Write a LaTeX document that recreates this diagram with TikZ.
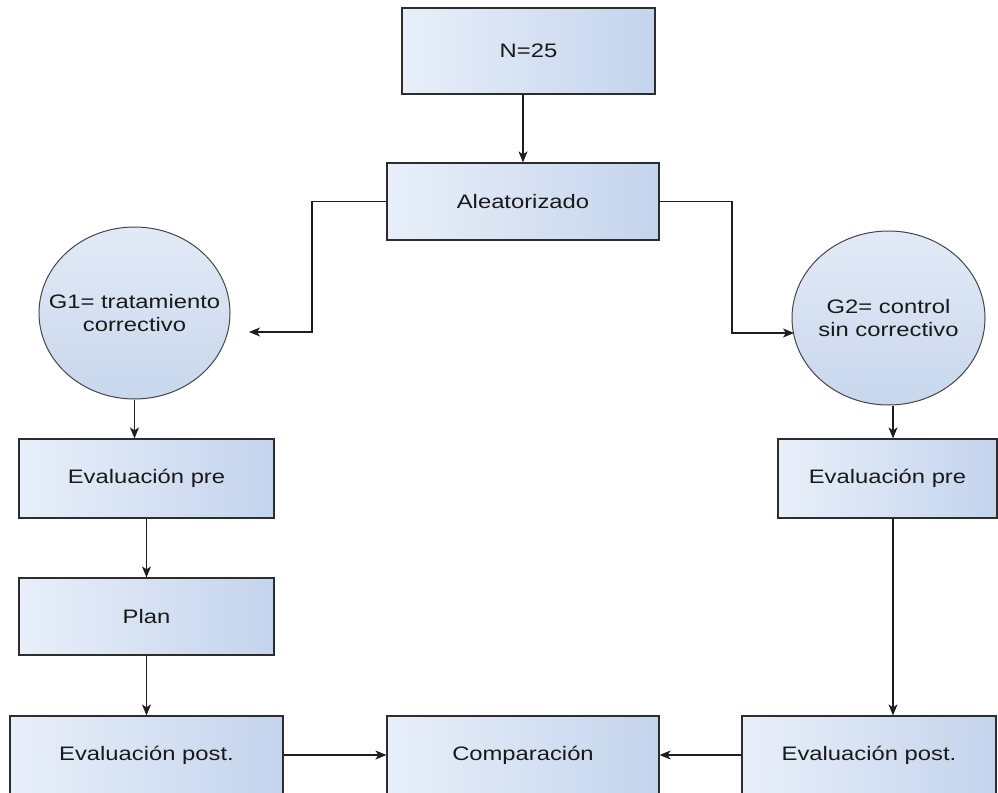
\documentclass[tikz,border=0pt]{standalone}
\usepackage{fontspec}
\setmainfont{Liberation Sans}[FakeStretch=1.22]
\usetikzlibrary{shapes.geometric,arrows.meta}
\definecolor{boxL}{RGB}{232,239,249}
\definecolor{boxR}{RGB}{196,212,237}
\definecolor{boxD}{RGB}{45,45,45}
\definecolor{circT}{RGB}{226,234,246}
\definecolor{circB}{RGB}{200,215,237}
\definecolor{circD}{RGB}{70,70,70}
\definecolor{lineC}{RGB}{30,30,30}
\definecolor{txt}{RGB}{25,25,25}
\begin{document}
\begin{tikzpicture}[x=1pt,y=-1pt,
  lbl/.style={text=txt, font=\fontsize{19.5}{23}\selectfont},
  box/.style={lbl, draw=boxD, line width=1.2pt, left color=boxL, right color=boxR, inner sep=0pt},
  circ/.style={ellipse, draw=circD, line width=1pt, top color=circT, bottom color=circB, inner sep=0pt},
  arr/.style={draw=lineC, line width=1.2pt, -{Stealth[length=11pt,width=9pt,inset=3pt]}}]
\useasboundingbox (0,0) rectangle (998,792);
\clip (0,0) rectangle (998,792);
\fill[white] (0,0) rectangle (998,792);

\node[box, minimum width=253pt, minimum height=86pt] (n25) at (528.5,51) {N=25};
\node[box, minimum width=272pt, minimum height=77pt] (alea) at (523,201.5) {Aleatorizado};

\node[circ, minimum width=191pt, minimum height=172pt,
      label={[lbl, align=center]center:G1= tratamiento\\correctivo}] (g1) at (134.5,313) {};
\node[circ, minimum width=193pt, minimum height=174pt,
      label={[lbl, align=center]center:G2= control\\sin correctivo}] (g2) at (888.5,318) {};

\node[box, minimum width=255pt, minimum height=79pt] (pre1) at (146.5,478.5) {Evaluación pre};
\node[box, minimum width=219pt, minimum height=79pt] (pre2) at (887.5,478.5) {Evaluación pre};
\node[box, minimum width=255pt, minimum height=77pt] (plan) at (146.5,616.5) {Plan};

\node[box, minimum width=273pt, minimum height=78pt] (post1) at (146.5,755) {Evaluación post.};
\node[box, minimum width=272pt, minimum height=78pt] (comp) at (523,755) {Comparación};
\node[box, minimum width=254pt, minimum height=78pt] (post2) at (869,755) {Evaluación post.};

\coordinate (l1) at (249,332);
\coordinate (r1) at (794,333);

\draw[arr] (n25.south -| alea.north) -- (alea.north);
\draw[arr] (alea.west) -| (312,332) -- (l1);
\draw[arr] (alea.east) -| (732,333) -- (r1);
\draw[arr] (g1.south) -- (g1.south |- pre1.north);
\draw[arr] (pre1) -- (plan);
\draw[arr] (plan) -- (post1);
\draw[arr] ([xshift=4.5pt]g2.south) -- ([xshift=4.5pt]g2.south |- pre2.north);
\draw[arr] ([xshift=5.5pt]pre2.south) -- ([xshift=5.5pt]pre2.south |- post2.north);
\draw[arr] (post1.east) -- (post1.east -| comp.west);
\draw[arr] (post2.west) -- (post2.west -| comp.east);
\end{tikzpicture}
\end{document}
